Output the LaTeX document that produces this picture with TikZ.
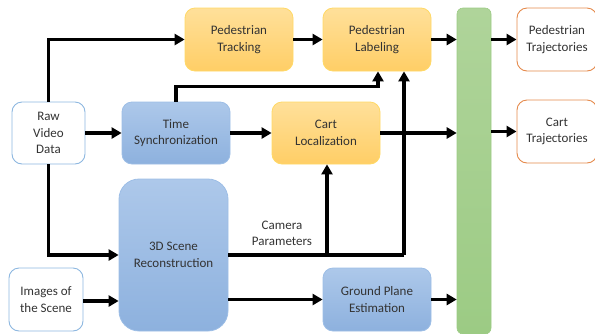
\documentclass[tikz,border=0pt]{standalone}
\usepackage{fontspec}
\setmainfont{Carlito}
\usetikzlibrary{arrows.meta,calc}
\definecolor{txt}{HTML}{333333}
\definecolor{orT}{HTML}{FFE09A}
\definecolor{orB}{HTML}{FFCE66}
\definecolor{orD}{HTML}{FFD966}
\definecolor{blT}{HTML}{ADC8EA}
\definecolor{blB}{HTML}{8DB1DE}
\definecolor{blD}{HTML}{9DBEE6}
\definecolor{grT}{HTML}{AFD49A}
\definecolor{grB}{HTML}{9CCB84}
\definecolor{wbD}{HTML}{8DB7E0}
\definecolor{woD}{HTML}{E58A4C}
\begin{document}
\begin{tikzpicture}[x=1pt,y=-1pt,
  every node/.style={font=\fontsize{13}{16.5}\selectfont, text=txt, align=center, inner sep=0pt},
  obox/.style={draw=orD, line width=0.8pt, rounded corners=10pt, top color=orT, bottom color=orB, minimum width=108pt, minimum height=63pt},
  bbox/.style={draw=blD, line width=0.8pt, rounded corners=10pt, top color=blT, bottom color=blB, minimum width=108pt, minimum height=63pt},
  wbox/.style={draw=wbD, line width=0.9pt, rounded corners=10pt, fill=white, minimum width=74pt, minimum height=63pt},
  tbox/.style={draw=woD, line width=0.9pt, rounded corners=10pt, fill=white, minimum width=80pt, minimum height=63pt},
  arr/.style={line width=3.2pt, -{Triangle[length=10pt,width=11pt]}},
  ln/.style={line width=3.2pt}
]
\useasboundingbox (0,0) rectangle (595,333);
\begin{scope}
\clip (0,0) rectangle (595,333);
\node[obox] (pt) at (239,39.5) {Pedestrian\\Tracking};
\node[obox] (pl) at (377,39.5) {Pedestrian\\Labeling};
\node[draw=grB, line width=0.6pt, rounded corners=6pt, top color=grT, bottom color=grB, minimum width=34pt, minimum height=326pt] (bar) at (474,171) {};
\node[tbox] (ptr) at (557,39.5) {Pedestrian\\Trajectories};
\node[tbox] (ctr) at (557,131.5) {Cart\\Trajectories};
\node[wbox, minimum width=73pt, minimum height=62pt] (raw) at (48.5,133) {Raw\\Video\\Data};
\node[bbox, minimum height=62pt] (ts) at (176,133) {Time\\Synchronization};
\node[obox, minimum height=62pt] (cl) at (326,133) {Cart\\Localization};
\node[bbox, rounded corners=20pt, minimum width=109pt, minimum height=152pt] (sr) at (173.5,255) {3D Scene\\Reconstruction};
\node[wbox] (img) at (46,299.5) {Images of\\the Scene};
\node[bbox] (gp) at (377,299.5) {Ground Plane\\Estimation};
\node (cp) at (282,233.5) {Camera\\Parameters};

\coordinate (c1) at (404,255);
\coordinate (c2) at (327,255);

\draw[arr] (raw.north) |- (pt.west);
\draw[arr] (raw.east) -- (ts.west);
\draw[arr] (raw.south) |- (sr.west);
\draw[arr] ([yshift=-1.5pt]img.east) -- ([yshift=-1.5pt]img.east -| sr.west);
\draw[arr] (pt.east) -- (pl.west);
\draw[arr] (ts.north) -- ++(0,-15) -| ([xshift=1pt]pl.south);
\draw[arr] (ts.east) -- (cl.west);
\draw[arr] (cl.east) -- (cl.east -| bar.west);
\draw[ln] (sr.east) -- (c1);
\draw[arr] (c1) -- (c1 |- pl.south);
\draw[arr] (c2) -- (c2 |- cl.south);
\draw[arr] (sr.east |- gp.west) -- (gp.west);
\draw[arr] (gp.east) -- (gp.east -| bar.west);
\draw[arr] (pl.east) -- (pl.east -| bar.west);
\draw[arr] (bar.east |- ptr.west) -- (ptr.west);
\draw[arr] (bar.east |- ctr.west) -- (ctr.west);
\end{scope}
\end{tikzpicture}
\end{document}
